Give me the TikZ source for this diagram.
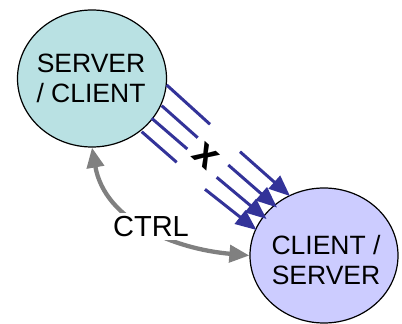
\documentclass[tikz,border=0pt]{standalone}
\usepackage{fontspec}
\setmainfont{Liberation Sans}
\usetikzlibrary{shapes.geometric,arrows.meta}
\definecolor{tealfill}{RGB}{185,225,227}
\definecolor{lilacfill}{RGB}{204,204,255}
\definecolor{linkblue}{RGB}{51,51,153}
\definecolor{ctrlgray}{RGB}{128,128,128}
\tikzset{
  hostnode/.style={ellipse, draw=black, line width=1.2pt, inner sep=0pt},
  hosttext/.style={align=center, font=\fontsize{26.5}{30}\selectfont},
  datalink/.style={draw=linkblue, line width=3pt},
  datatip/.style={datalink, -{Triangle[length=21pt,width=17pt]}},
  ctrllink/.style={draw=ctrlgray, line width=4.3pt,
    {Triangle[length=20pt,width=17pt]}-{Triangle[length=20pt,width=17pt]}},
}
\begin{document}
\begin{tikzpicture}[x=1pt,y=1pt]
\useasboundingbox (0,0) rectangle (402,324);

% the two hosts
\node[hostnode, fill=tealfill, minimum width=149pt, minimum height=137pt] (A) at (92,245.5) {};
\node[hostnode, fill=lilacfill, minimum width=148pt, minimum height=135pt] (B) at (324,68.5) {};
\node[hosttext] (Atext) at (91,245.5) {SERVER\\/ CLIENT};
\node[hosttext] (Btext) at (326,64) {CLIENT /\\SERVER};

% control channel, both ways
\draw[ctrllink] (A.south) to[out=-80, in=175] (B.west);
\node[fill=white, inner sep=3pt, font=\fontsize{29}{32}\selectfont] (ctrl) at (151,97.5) {CTRL};

% four parallel data links, cut in the middle
\coordinate (s1) at (166.7,239);   \coordinate (a1) at (210,199.7);
\coordinate (b1) at (240,172.3);   \coordinate (t1) at (290,128);
\coordinate (s2) at (161.7,218.3); \coordinate (a2) at (197.7,186.3);
\coordinate (b2) at (228.3,159);   \coordinate (t2) at (277,116.5);
\coordinate (s3) at (151.7,205.7); \coordinate (a3) at (187.3,175);
\coordinate (b3) at (216.7,146.7); \coordinate (t3) at (266.5,105);
\coordinate (s4) at (141.7,192.3); \coordinate (a4) at (176.7,161.7);
\coordinate (b4) at (205,134.7);   \coordinate (t4) at (256.5,94);
\foreach \i in {1,2,3,4}{
  \draw[datalink] (s\i) -- (a\i);
  \draw[datatip] (b\i) -- (t\i);
}
\node[rotate=-42, font=\fontsize{40}{40}\selectfont\bfseries] (cut) at (206,168) {x};
\end{tikzpicture}
\end{document}
